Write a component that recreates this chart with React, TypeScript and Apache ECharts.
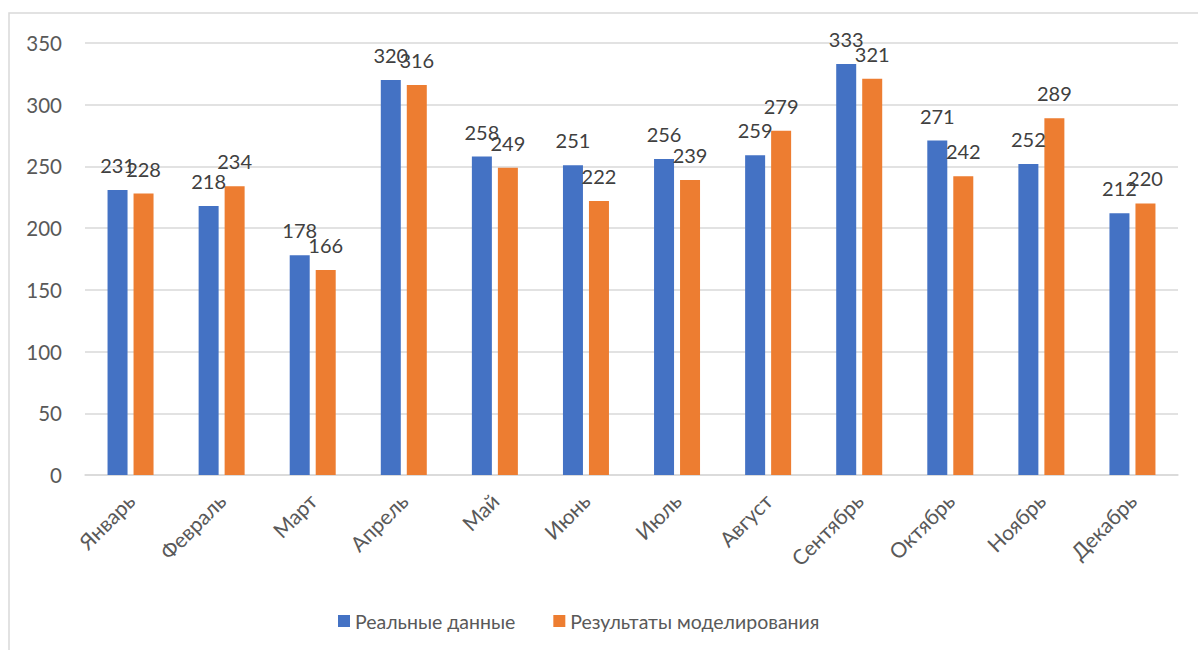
import React, { useEffect, useRef } from "react";
import * as echarts from "echarts";

const months = [
  "Январь", "Февраль", "Март", "Апрель", "Май", "Июнь",
  "Июль", "Август", "Сентябрь", "Октябрь", "Ноябрь", "Декабрь",
];
const realData = [231, 218, 178, 320, 258, 251, 256, 259, 333, 271, 252, 212];
const modelData = [228, 234, 166, 316, 249, 222, 239, 279, 321, 242, 289, 220];
const seriesNames = ["Реальные данные", "Результаты моделирования"];

const FONT = "Lato, 'Noto Sans', sans-serif";

export default function App() {
  const ref = useRef<HTMLDivElement>(null);

  useEffect(() => {
    document.body.style.margin = "0";
    const chart = echarts.init(ref.current!, undefined, { renderer: "svg" });
    const label = {
      show: true,
      position: "top",
      distance: 15,
      color: "#404040",
      fontSize: 20,
      fontFamily: FONT,
    };
    chart.setOption({
      animation: false,
      textStyle: { fontFamily: FONT },
      graphic: [
        {
          type: "rect",
          shape: { x: 9, y: 13, width: 1300, height: 700 },
          style: { fill: "none", stroke: "#D9D9D9", lineWidth: 1.5 },
          silent: true,
        },
      ],
      grid: { left: 85, right: 20, top: 43, bottom: 175, containLabel: false },
      legend: {
        top: 606,
        left: 333,
        itemWidth: 12,
        itemHeight: 12,
        itemGap: 38,
        icon: "rect",
        textStyle: { color: "#595959", fontSize: 19.5, fontFamily: FONT },
        data: seriesNames,
      },
      xAxis: {
        type: "category",
        data: months,
        axisLine: { lineStyle: { color: "#D9D9D9", width: 1.5 } },
        axisTick: { show: false },
        axisLabel: {
          rotate: 45,
          margin: 22,
          color: "#595959",
          fontSize: 21,
          fontFamily: FONT,
          interval: 0,
        },
      },
      yAxis: {
        type: "value",
        min: 0,
        max: 350,
        interval: 50,
        axisLine: { show: false },
        axisTick: { show: false },
        splitLine: { lineStyle: { color: "#D9D9D9", width: 1.5 } },
        axisLabel: {
          margin: 23,
          color: "#595959",
          fontSize: 20.5,
          fontFamily: FONT,
        },
      },
      series: [
        {
          name: seriesNames[0],
          type: "bar",
          data: realData,
          barWidth: 20,
          barGap: "30%",
          itemStyle: { color: "#4472C4" },
          label,
        },
        {
          name: seriesNames[1],
          type: "bar",
          data: modelData,
          barWidth: 20,
          itemStyle: { color: "#ED7D31" },
          label,
        },
      ],
    });
    return () => chart.dispose();
  }, []);

  return <div ref={ref} style={{ width: 1198, height: 650 }} />;
}
